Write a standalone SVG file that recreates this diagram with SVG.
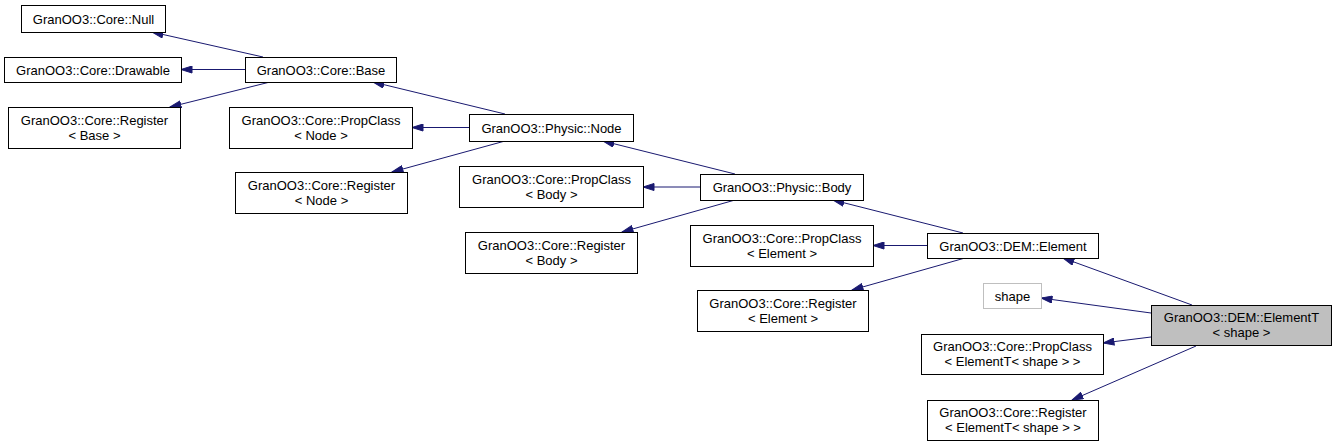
<svg xmlns="http://www.w3.org/2000/svg" width="1336" height="446" viewBox="0 0 1336 446">
<style>
.box{fill:#ffffff;stroke:#000000;stroke-width:1}
.gray{fill:#ffffff;stroke:#bfbfbf;stroke-width:1}
.cur{fill:#bfbfbf;stroke:#000000;stroke-width:1}
text{font-family:"Liberation Sans",Arial,sans-serif;font-size:13px;fill:#000000;text-anchor:middle}
.edge{stroke:#191970;stroke-width:1;fill:none;marker-end:url(#arr)}
</style>
<defs>
<marker id="arr" viewBox="0 0 12 8" refX="11.5" refY="4" markerWidth="12" markerHeight="8" markerUnits="userSpaceOnUse" orient="auto">
<path d="M0.5,0.5 L11.5,4 L0.5,7.5 z" fill="#191970" stroke="#191970" stroke-width="1"/>
</marker>
</defs>
<rect width="1336" height="446" fill="#ffffff"/>
<g id="connectors">
<path class="edge" d="M263,57 L152,32"/>
<path class="edge" d="M245,69.5 L181,69.5"/>
<path class="edge" d="M270,82 L170,107"/>
<path class="edge" d="M505,114 L373,82"/>
<path class="edge" d="M469,127.5 L412,127.5"/>
<path class="edge" d="M505,141 L392,172"/>
<path class="edge" d="M735,174 L603,141"/>
<path class="edge" d="M700,187 L643,187"/>
<path class="edge" d="M735,200 L622,232"/>
<path class="edge" d="M963,233 L833,200"/>
<path class="edge" d="M927,245.5 L873,245.5"/>
<path class="edge" d="M965,258 L852,290"/>
<path class="edge" d="M1192,305 L1063,258"/>
<path class="edge" d="M1151,313 L1041,298"/>
<path class="edge" d="M1151,337 L1103,343"/>
<path class="edge" d="M1196,346 L1072,400"/>
</g>
<g id="null"><rect class="box" x="21.5" y="5.5" width="144" height="27"/><text x="93.5" y="23.5">GranOO3::Core::Null</text></g>
<g id="drawable"><rect class="box" x="4.5" y="57.5" width="177" height="25"/><text x="93" y="74.5">GranOO3::Core::Drawable</text></g>
<g id="base"><rect class="box" x="245.5" y="57.5" width="151" height="25"/><text x="321" y="74.5">GranOO3::Core::Base</text></g>
<g id="regbase"><rect class="box" x="8.5" y="107.5" width="172" height="41"/><text x="94.5" y="124.5">GranOO3::Core::Register</text><text x="94.5" y="139.5">&lt; Base &gt;</text></g>
<g id="propnode"><rect class="box" x="229.5" y="107.5" width="183" height="41"/><text x="321" y="124.5">GranOO3::Core::PropClass</text><text x="321" y="139.5">&lt; Node &gt;</text></g>
<g id="node"><rect class="box" x="469.5" y="114.5" width="164" height="27"/><text x="551.5" y="132.5">GranOO3::Physic::Node</text></g>
<g id="regnode"><rect class="box" x="235.5" y="172.5" width="172" height="41"/><text x="321.5" y="189.5">GranOO3::Core::Register</text><text x="321.5" y="204.5">&lt; Node &gt;</text></g>
<g id="propbody"><rect class="box" x="459.5" y="166.5" width="184" height="41"/><text x="551.5" y="183.5">GranOO3::Core::PropClass</text><text x="551.5" y="198.5">&lt; Body &gt;</text></g>
<g id="body"><rect class="box" x="700.5" y="174.5" width="163" height="26"/><text x="782" y="192">GranOO3::Physic::Body</text></g>
<g id="regbody"><rect class="box" x="465.5" y="232.5" width="172" height="41"/><text x="551.5" y="249.5">GranOO3::Core::Register</text><text x="551.5" y="264.5">&lt; Body &gt;</text></g>
<g id="propelem"><rect class="box" x="690.5" y="225.5" width="183" height="41"/><text x="782" y="242.5">GranOO3::Core::PropClass</text><text x="782" y="257.5">&lt; Element &gt;</text></g>
<g id="element"><rect class="box" x="927.5" y="233.5" width="171" height="25"/><text x="1013" y="250.5">GranOO3::DEM::Element</text></g>
<g id="regelem"><rect class="box" x="697.5" y="290.5" width="171" height="41"/><text x="783" y="307.5">GranOO3::Core::Register</text><text x="783" y="322.5">&lt; Element &gt;</text></g>
<g id="shape"><rect class="gray" x="983.5" y="283.5" width="58" height="25"/><text x="1012.5" y="300.5">shape</text></g>
<g id="elementT"><rect class="cur" x="1151.5" y="305.5" width="180" height="40"/><text x="1241.5" y="322">GranOO3::DEM::ElementT</text><text x="1241.5" y="337">&lt; shape &gt;</text></g>
<g id="propelemT"><rect class="box" x="921.5" y="334.5" width="182" height="40"/><text x="1012.5" y="351">GranOO3::Core::PropClass</text><text x="1012.5" y="366">&lt; ElementT&lt; shape &gt; &gt;</text></g>
<g id="regelemT"><rect class="box" x="927.5" y="400.5" width="171" height="40"/><text x="1013" y="417">GranOO3::Core::Register</text><text x="1013" y="432">&lt; ElementT&lt; shape &gt; &gt;</text></g>
</svg>
